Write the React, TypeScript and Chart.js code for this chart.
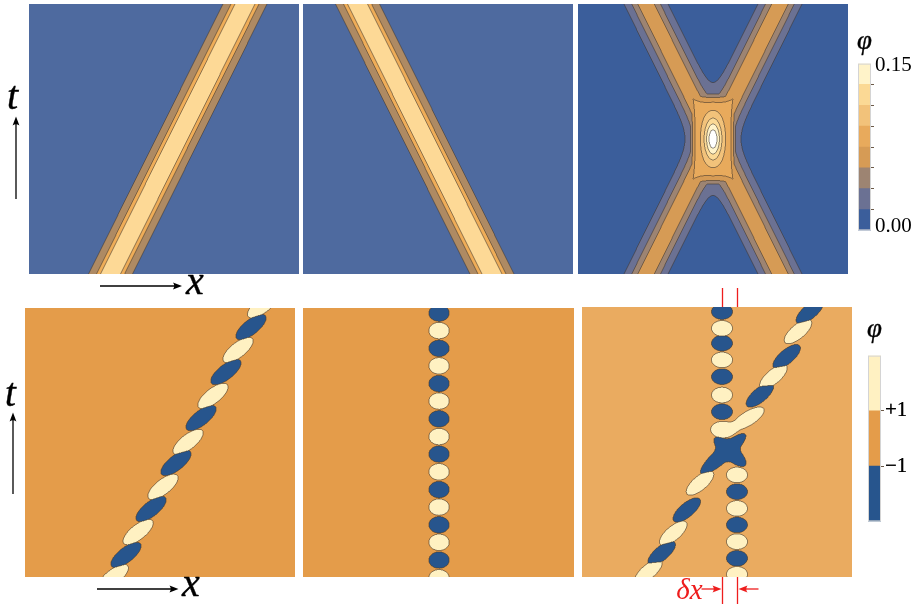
import React, { useEffect, useRef } from "react";
import { Chart, registerables } from "chart.js";

Chart.register(...registerables);

// ---------------- top row: kink trajectories (x ∈ [-50, 50], t ∈ [0, 100]) ----------------
const rightMover = [{ x: -19.8, y: 0 }, { x: 30.0, y: 100 }];
const leftMover = [{ x: 20.0, y: 0 }, { x: -29.8, y: 100 }];
const crossingArmA = [{ x: -24.8, y: 0 }, { x: 24.8, y: 100 }];
const crossingArmB = [{ x: 24.8, y: 0 }, { x: -24.8, y: 100 }];

// φ = A·sech²((x − X(t))/w) for each kink
const singleKinkAmplitude = 0.14;
const singleKinkWidth = 6.2;
const armAmplitude = 0.07;
const armWidth = 6.4;
// bound lump that forms while the two kinks overlap
const lumpPlateau = 0.085;
const lumpRadius = 19.3;
const lumpNorm = 0.84;
const peakHeight = 0.08;
const peakWidthX = 3.2;
const peakWidthT = 7.5;

const singleLevels = [0.035, 0.074, 0.1];
const phiLevels = [0.01875, 0.0375, 0.05625, 0.075, 0.09375, 0.1125, 0.13125, 0.15];
const topBarEdges = [0.0, 0.01875, 0.0375, 0.05625, 0.075, 0.09375, 0.1125, 0.13125, 0.15];
const topBarMarks = [0.01875, 0.0375, 0.05625, 0.075, 0.09375, 0.1125, 0.13125];
const topBarLabels = [{ value: 0.0036, text: "0.00" }, { value: 0.1482, text: "0.15" }];

// ---------------- bottom row: oscillon centres (x, t) ----------------
const movingPlus = [
  { x: 38.0, y: 101.0 }, { x: 28.9, y: 84.4 }, { x: 19.6, y: 67.3 }, { x: 10.4, y: 50.2 },
  { x: 1.1, y: 33.5 }, { x: -8.1, y: 16.7 }, { x: -17.3, y: 0.0 },
];
const movingMinus = [
  { x: 33.7, y: 92.9 }, { x: 24.4, y: 76.2 }, { x: 15.2, y: 59.1 }, { x: 5.9, y: 42.4 },
  { x: -3.3, y: 25.3 }, { x: -12.6, y: 8.2 },
];
const stillPlus = [
  { x: 0.2, y: 91.6 }, { x: 0.2, y: 78.5 }, { x: 0.2, y: 65.4 }, { x: 0.2, y: 52.2 },
  { x: 0.2, y: 39.1 }, { x: 0.2, y: 26.0 }, { x: 0.2, y: 12.9 }, { x: 0.2, y: -0.3 },
];
const stillMinus = [
  { x: 0.2, y: 98.1 }, { x: 0.2, y: 85.0 }, { x: 0.2, y: 71.9 }, { x: 0.2, y: 58.8 },
  { x: 0.2, y: 45.7 }, { x: 0.2, y: 32.5 }, { x: 0.2, y: 19.4 }, { x: 0.2, y: 6.3 },
];
// collision: resting chain before (upper) and after (lower) the hit
const upperPlus = [{ x: 1.85, y: 92.1 }, { x: 1.85, y: 80.4 }, { x: 1.85, y: 67.4 }];
const upperMinus = [{ x: 1.85, y: 98.3 }, { x: 1.85, y: 86.6 }, { x: 1.85, y: 74.2 }, { x: 1.85, y: 61.2 }];
const lowerPlus = [{ x: 7.4, y: 37.8 }, { x: 7.4, y: 25.4 }, { x: 7.4, y: 13.1 }, { x: 7.4, y: 1.0 }];
const lowerMinus = [{ x: 7.4, y: 31.6 }, { x: 7.4, y: 19.3 }, { x: 7.4, y: 6.9 }];
const incomingPlus = [{ x: 30.0, y: 90.9 }, { x: 20.9, y: 74.2 }, { x: -6.3, y: 34.8 }, { x: -16.2, y: 16.2 }, { x: -25.4, y: 2.0 }];
const incomingMinus = [{ x: 34.4, y: 98.3 }, { x: 25.8, y: 81.6 }, { x: 15.9, y: 67.4 }, { x: -11.2, y: 24.8 }, { x: -20.5, y: 8.8 }];
const fusedPlus = [{ x: 2.2, y: 54.6 }, { x: 11.5, y: 58.7 }];
const fusedMinus = [{ x: 2.3, y: 45.6 }, { x: 4.8, y: 46.4 }];

const bottomBarEdges = [-3, -1, 1, 3];
const bottomBarMarks = [-1, 1];
const bottomBarLabels = [{ value: -1, text: "\u22121" }, { value: 1, text: "+1" }];

// ---------------- styles ----------------
const singlePalette = ["#4e6a9f", "#ae8a63", "#efad58", "#fdd996"];
const phiPalette = ["#3b5e9b", "#6b7193", "#9d8472", "#d69b55", "#e8aa5c", "#f2c27a", "#fbd995", "#fff3c9", "#ffffff"];
const bluePhi = "#27558d";
const creamPhi = "#fff1c2";
const orangePhi = "#e49c4a";
const orangePhiLight = "#eaab60";
const contourInk = "#3d342b";
const blobInk = "#4a3a28";
const tickInk = "#6b5a48";

const roundBlob = { a: 10.2, b: 8.2, angle: 0 };
const roundBlobSmall = { a: 10.5, b: 7.8, angle: 0 };
const tiltedBlob = { a: 18.3, b: 7.4, angle: 38 };
const tiltedBlobB = { a: 17, b: 7, angle: 40 };
const fusedPlusShapes = [{ a: 12.3, b: 8.3, angle: 0 }, { a: 18.5, b: 7, angle: 32 }];
const fusedMinusShapes = [{ a: 29.5, b: 7.6, angle: 41.5 }, { a: 20.5, b: 7.6, angle: -41.7 }];

const SERIF = '"Liberation Serif", "DejaVu Serif", serif';

// ---------------- helpers ----------------
const hexRGB = (h: string) => [parseInt(h.slice(1, 3), 16), parseInt(h.slice(3, 5), 16), parseInt(h.slice(5, 7), 16)];
const sech2 = (z: number) => {
  const c = Math.cosh(z);
  return 1 / (c * c);
};
const xAt = (path: { x: number; y: number }[], t: number) =>
  path[0].x + ((path[1].x - path[0].x) * (t - path[0].y)) / (path[1].y - path[0].y);
const levelOf = (v: number, th: number[]) => {
  let k = 0;
  while (k < th.length && v >= th[k]) k++;
  return k;
};
function crossingPoint(A: { x: number; y: number }[], B: { x: number; y: number }[]) {
  const va = (A[1].x - A[0].x) / (A[1].y - A[0].y);
  const vb = (B[1].x - B[0].x) / (B[1].y - B[0].y);
  const ca = A[0].x - va * A[0].y;
  const cb = B[0].x - vb * B[0].y;
  const t = (cb - ca) / (va - vb);
  return [ca + va * t, t];
}

// fills the chart area with banded levels (2× supersampled) and inks the band borders
function paintLevels(ctx: CanvasRenderingContext2D, area: any, classify: (px: number, py: number) => number,
  palette: string[], edgeColor: string, edgeMix: number) {
  const ss = 2;
  const w = Math.round(area.right - area.left);
  const h = Math.round(area.bottom - area.top);
  const W = w * ss, H = h * ss;
  const lv = new Uint8Array(W * H);
  for (let j = 0; j < H; j++) {
    const py = area.top + (j + 0.5) / ss;
    for (let i = 0; i < W; i++) lv[j * W + i] = classify(area.left + (i + 0.5) / ss, py);
  }
  const cols = palette.map(hexRGB);
  const e = hexRGB(edgeColor);
  const off = document.createElement("canvas");
  off.width = W;
  off.height = H;
  const octx = off.getContext("2d")!;
  const img = octx.createImageData(W, H);
  const d = img.data;
  for (let j = 0; j < H; j++) {
    for (let i = 0; i < W; i++) {
      const k = j * W + i;
      const L = lv[k];
      const edge = (i > 0 && lv[k - 1] !== L) || (i < W - 1 && lv[k + 1] !== L) ||
        (j > 0 && lv[k - W] !== L) || (j < H - 1 && lv[k + W] !== L);
      const c = cols[L];
      const m = edge ? edgeMix : 0;
      d[4 * k] = c[0] + (e[0] - c[0]) * m;
      d[4 * k + 1] = c[1] + (e[1] - c[1]) * m;
      d[4 * k + 2] = c[2] + (e[2] - c[2]) * m;
      d[4 * k + 3] = 255;
    }
  }
  octx.putImageData(img, 0, 0);
  ctx.save();
  ctx.imageSmoothingEnabled = true;
  (ctx as any).imageSmoothingQuality = "high";
  ctx.drawImage(off, area.left, area.top, w, h);
  ctx.restore();
}

type Path = { x: number; y: number }[];

function singleKinkField(x: number, t: number, paths: Path[]) {
  return singleKinkAmplitude * sech2((x - xAt(paths[0], t)) / singleKinkWidth);
}

function crossingField(x: number, t: number, paths: Path[]) {
  const [A, B] = paths;
  const u1 = x - xAt(A, t);
  const u2 = x - xAt(B, t);
  const s1 = sech2(u1 / armWidth);
  const s2 = sech2(u2 / armWidth);
  const arms = armAmplitude * (s1 + s2 - s1 * s2);
  const r = Math.pow(Math.pow(Math.abs(u1), lumpNorm) + Math.pow(Math.abs(u2), lumpNorm), 1 / lumpNorm);
  const plateau = lumpPlateau * Math.exp(-Math.pow(r / lumpRadius, 8));
  const [xc, tc] = crossingPoint(A, B);
  const dx = (x - xc) / peakWidthX;
  const dt = (t - tc) / peakWidthT;
  return Math.max(arms, plateau) + peakHeight * Math.exp(-dx * dx - dt * dt);
}

function kinkFieldPlugin(field: (x: number, t: number, p: Path[]) => number, levels: number[], palette: string[]) {
  return {
    id: "kinkField",
    beforeDatasetsDraw(chart: any) {
      const xs = chart.scales.x, ys = chart.scales.y;
      const paths = chart.data.datasets.map((ds: any) => ds.data);
      paintLevels(chart.ctx, chart.chartArea,
        (px, py) => levelOf(field(xs.getValueForPixel(px), ys.getValueForPixel(py), paths), levels),
        palette, contourInk, 0.55);
    },
  };
}

const LN2 = Math.log(2);
function oscillonPlugin(palette: string[]) {
  return {
    id: "oscillons",
    beforeDatasetsDraw(chart: any) {
      const blobs: any[] = [];
      chart.data.datasets.forEach((ds: any, i: number) => {
        const meta = chart.getDatasetMeta(i);
        meta.data.forEach((pt: any, j: number) => {
          const sh = Array.isArray(ds.blob) ? ds.blob[j] : ds.blob;
          const th = (sh.angle * Math.PI) / 180;
          blobs.push({ cx: pt.x, cy: pt.y, sign: ds.sign, a: sh.a, b: sh.b, c: Math.cos(th), s: Math.sin(th), r: 2 * Math.max(sh.a, sh.b) });
        });
      });
      paintLevels(chart.ctx, chart.chartArea, (px, py) => {
        let P = 0, N = 0;
        for (const bl of blobs) {
          const dx = px - bl.cx, dy = bl.cy - py;
          if (Math.abs(dx) > bl.r || Math.abs(dy) > bl.r) continue;
          const u = (dx * bl.c + dy * bl.s) / bl.a;
          const v = (-dx * bl.s + dy * bl.c) / bl.b;
          const q = u * u + v * v;
          if (q > 4) continue;
          const f = 2 * Math.exp(-LN2 * q * q);
          if (bl.sign > 0) P += f; else N += f;
        }
        if (P >= 1 && P >= N) return 2;
        if (N >= 1) return 0;
        return 1;
      }, palette, blobInk, 0.6);
    },
  };
}

// red δx marks between the resting chain before and after the collision
const shiftMarker = {
  id: "shiftMarker",
  afterDraw(chart: any) {
    const { ctx, chartArea: a } = chart;
    const xs = chart.scales.x;
    const p1 = Math.round(xs.getPixelForValue(upperMinus[0].x)) + 0.5;
    const p2 = Math.round(xs.getPixelForValue(lowerPlus[0].x)) + 0.5;
    ctx.save();
    ctx.strokeStyle = "#ee1d1d";
    ctx.fillStyle = "#ee1d1d";
    ctx.lineWidth = 1.3;
    const seg = (x0: number, y0: number, x1: number, y1: number) => {
      ctx.beginPath();
      ctx.moveTo(x0, y0);
      ctx.lineTo(x1, y1);
      ctx.stroke();
    };
    for (const p of [p1, p2]) {
      seg(p, a.top - 19, p, a.top);
      seg(p, a.bottom, p, a.bottom + 27);
    }
    const ay = a.bottom + 12;
    seg(p1 - 21, ay, p1 - 5, ay);
    seg(p2 + 21, ay, p2 + 5, ay);
    const head = (tip: number, dir: number) => {
      ctx.beginPath();
      ctx.moveTo(tip, ay);
      ctx.lineTo(tip - dir * 9, ay - 3.6);
      ctx.quadraticCurveTo(tip - dir * 6.5, ay, tip - dir * 9, ay + 3.6);
      ctx.closePath();
      ctx.fill();
    };
    head(p1 - 1, 1);
    head(p2 + 1, -1);
    ctx.font = `italic 29px ${SERIF}`;
    ctx.textAlign = "right";
    ctx.textBaseline = "alphabetic";
    ctx.fillText("\u03b4x", p1 - 20, a.bottom + 22);
    ctx.restore();
  },
};

function panelConfig(datasets: any[], plugins: any[], padding: any = 0) {
  return {
    type: "scatter",
    data: { datasets },
    options: {
      animation: false,
      responsive: false,
      devicePixelRatio: 1,
      events: [],
      layout: { padding },
      scales: {
        x: { type: "linear", min: -50, max: 50, display: false },
        y: { type: "linear", min: 0, max: 100, display: false },
      },
      elements: { point: { radius: 0 } },
      plugins: { legend: { display: false }, tooltip: { enabled: false } },
    },
    plugins,
  };
}

const barFrame = {
  id: "barFrame",
  afterDatasetsDraw(chart: any) {
    const { ctx, chartArea: a } = chart;
    ctx.save();
    ctx.strokeStyle = "#d4d4d4";
    ctx.lineWidth = 1;
    ctx.strokeRect(a.left + 0.5, a.top + 0.5, a.right - a.left - 1, a.bottom - a.top - 1);
    ctx.restore();
  },
};

function colorbarConfig(edges: number[], colors: string[], marks: number[], labels: { value: number; text: string }[], axisWidth: number) {
  const tickValues = [...marks, ...labels.map((l) => l.value)].sort((p, q) => p - q);
  return {
    type: "bar",
    data: {
      labels: ["\u03c6"],
      datasets: colors.map((c, i) => ({
        data: [[edges[i], edges[i + 1]]],
        backgroundColor: c,
        borderWidth: 0,
        barPercentage: 1,
        categoryPercentage: 1,
        grouped: false,
      })),
    },
    options: {
      animation: false,
      responsive: false,
      devicePixelRatio: 1,
      events: [],
      layout: { padding: { top: 13, bottom: 13, left: 0, right: 0 } },
      scales: {
        x: { display: false },
        y: {
          position: "right",
          min: edges[0],
          max: edges[edges.length - 1],
          afterBuildTicks: (s: any) => {
            s.ticks = tickValues.map((v) => ({ value: v }));
          },
          afterFit: (s: any) => {
            s.width = axisWidth;
          },
          ticks: {
            autoSkip: false,
            padding: 1,
            color: "#000",
            font: { family: SERIF, size: 21 },
            callback: (v: number) => {
              const l = labels.find((q) => q.value === v);
              return l ? l.text : "";
            },
          },
          grid: {
            drawOnChartArea: false,
            drawTicks: true,
            tickLength: 3,
            lineWidth: 1,
            color: (c: any) => (c.tick && marks.includes(c.tick.value) ? tickInk : "rgba(0,0,0,0)"),
          },
          border: { display: false },
        },
      },
      plugins: { legend: { display: false }, tooltip: { enabled: false } },
    },
    plugins: [barFrame],
  };
}

function ChartBox({ left, top, width, height, build }: { left: number; top: number; width: number; height: number; build: () => any }) {
  const ref = useRef<HTMLCanvasElement>(null);
  useEffect(() => {
    const chart = new Chart(ref.current as HTMLCanvasElement, build());
    return () => chart.destroy();
  }, []);
  return <canvas ref={ref} width={width} height={height} style={{ position: "absolute", left, top, width, height }} />;
}

const hidden = { showLine: false, pointRadius: 0 };

function Arrows() {
  const ink = "#000";
  const up = (x: number, y0: number, y1: number) => (
    <g>
      <line x1={x} y1={y0} x2={x} y2={y1 + 5} stroke={ink} strokeWidth={1.3} />
      <path d={`M${x} ${y1} L${x - 3.4} ${y1 + 9} Q${x} ${y1 + 6.5} ${x + 3.4} ${y1 + 9} Z`} fill={ink} />
    </g>
  );
  const right = (y: number, x0: number, x1: number) => (
    <g>
      <line x1={x0} y1={y} x2={x1 - 5} y2={y} stroke={ink} strokeWidth={1.3} />
      <path d={`M${x1} ${y} L${x1 - 9} ${y - 3.4} Q${x1 - 6.5} ${y} ${x1 - 9} ${y + 3.4} Z`} fill={ink} />
    </g>
  );
  const it = { fontFamily: SERIF, fontStyle: "italic" as const, fill: ink, stroke: ink, strokeWidth: 0.4 };
  return (
    <svg width={915} height={604} style={{ position: "absolute", left: 0, top: 0, pointerEvents: "none" }}>
      {up(16, 199, 116.5)}
      {right(286, 100, 182)}
      <text x={7} y={109} fontSize={40} {...it}>t</text>
      <text x={186} y={294} fontSize={40} {...it}>x</text>
      {up(13, 494, 412.5)}
      {right(589, 97, 178.5)}
      <text x={5} y={406} fontSize={39} {...it}>t</text>
      <text x={182} y={596} fontSize={40} {...it}>x</text>
      <text x={857} y={49} fontSize={27} {...it}>{"\u03c6"}</text>
      <text x={867} y={337} fontSize={27} {...it}>{"\u03c6"}</text>
    </svg>
  );
}

export default function App() {
  return (
    <div style={{ position: "absolute", left: 0, top: 0, width: 915, height: 604, background: "#fff", overflow: "hidden" }}>
      <ChartBox left={29} top={4} width={270} height={270}
        build={() => panelConfig([{ data: rightMover, ...hidden }], [kinkFieldPlugin(singleKinkField, singleLevels, singlePalette)])} />
      <ChartBox left={303} top={4} width={270} height={270}
        build={() => panelConfig([{ data: leftMover, ...hidden }], [kinkFieldPlugin(singleKinkField, singleLevels, singlePalette)])} />
      <ChartBox left={578} top={4} width={270} height={270}
        build={() => panelConfig([{ data: crossingArmA, ...hidden }, { data: crossingArmB, ...hidden }], [kinkFieldPlugin(crossingField, phiLevels, phiPalette)])} />

      <ChartBox left={25} top={308} width={270} height={269}
        build={() => panelConfig([
          { data: movingPlus, sign: 1, blob: tiltedBlob, ...hidden },
          { data: movingMinus, sign: -1, blob: tiltedBlob, ...hidden },
        ], [oscillonPlugin([bluePhi, orangePhi, creamPhi])])} />
      <ChartBox left={303} top={308} width={271} height={269}
        build={() => panelConfig([
          { data: stillPlus, sign: 1, blob: roundBlob, ...hidden },
          { data: stillMinus, sign: -1, blob: roundBlob, ...hidden },
        ], [oscillonPlugin([bluePhi, orangePhi, creamPhi])])} />
      <ChartBox left={582} top={286} width={270} height={318}
        build={() => panelConfig([
          { data: upperPlus, sign: 1, blob: roundBlobSmall, ...hidden },
          { data: upperMinus, sign: -1, blob: roundBlobSmall, ...hidden },
          { data: lowerPlus, sign: 1, blob: roundBlobSmall, ...hidden },
          { data: lowerMinus, sign: -1, blob: roundBlobSmall, ...hidden },
          { data: incomingPlus, sign: 1, blob: tiltedBlobB, ...hidden },
          { data: incomingMinus, sign: -1, blob: tiltedBlobB, ...hidden },
          { data: fusedPlus, sign: 1, blob: fusedPlusShapes, ...hidden },
          { data: fusedMinus, sign: -1, blob: fusedMinusShapes, ...hidden },
        ], [oscillonPlugin([bluePhi, orangePhiLight, creamPhi]), shiftMarker], { top: 21, bottom: 27, left: 0, right: 0 })} />

      <ChartBox left={858} top={50} width={57} height={194}
        build={() => colorbarConfig(topBarEdges, phiPalette.slice(0, 8), topBarMarks, topBarLabels, 44)} />
      <ChartBox left={868} top={342} width={47} height={193}
        build={() => colorbarConfig(bottomBarEdges, [bluePhi, orangePhi, creamPhi], bottomBarMarks, bottomBarLabels, 34)} />
      <Arrows />
    </div>
  );
}
